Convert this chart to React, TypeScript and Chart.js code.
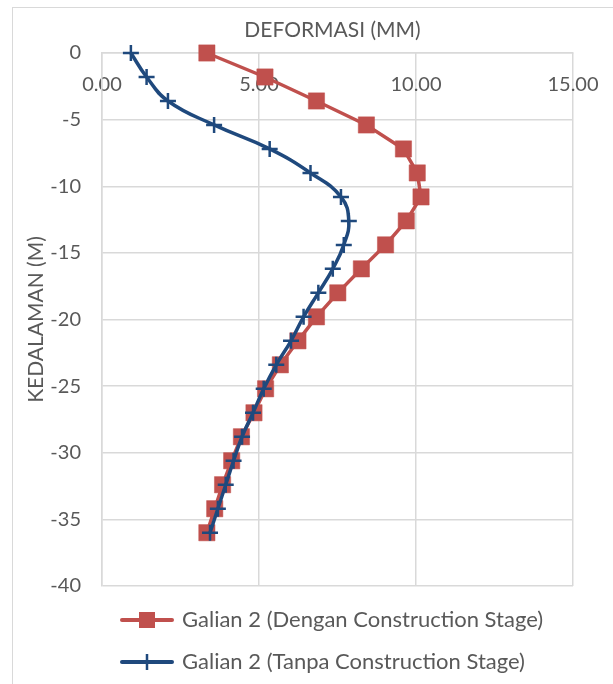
import React, { useEffect, useRef } from 'react';
import { Chart, registerables } from 'chart.js';

Chart.register(...registerables);

// ---- data ----
const depthM: number[] = [0, -1.8, -3.6, -5.4, -7.2, -9, -10.8, -12.6, -14.4, -16.2, -18, -19.8, -21.6, -23.4, -25.2, -27, -28.8, -30.6, -32.4, -34.2, -36];
const denganStage: number[] = [3.34, 5.19, 6.83, 8.42, 9.6, 10.04, 10.16, 9.69, 9.03, 8.26, 7.51, 6.83, 6.24, 5.68, 5.21, 4.84, 4.44, 4.13, 3.84, 3.59, 3.34];
const tanpaStage: number[] = [0.92, 1.42, 2.1, 3.57, 5.34, 6.64, 7.61, 7.86, 7.7, 7.35, 6.89, 6.42, 6.02, 5.55, 5.15, 4.81, 4.46, 4.19, 3.94, 3.69, 3.44];
const seriesNames: string[] = ['Galian 2 (Dengan Construction Stage)', 'Galian 2 (Tanpa Construction Stage)'];
const chartTitle = 'DEFORMASI (MM)';
const yAxisTitle = 'KEDALAMAN (M)';
const xRange: number[] = [0, 15];
const xStep = 5;
const yRange: number[] = [-40, 0];
const yStep = 5;

const TEXT = '#595959';
const GRID = '#d9d9d9';
const RED = '#c0504d';
const BLUE = '#1f497d';
const FONT = 'Lato';

const overlayPlugin = {
  id: 'overlay',
  afterDraw(chart: any) {
    const ctx = chart.ctx as CanvasRenderingContext2D;
    const area = chart.chartArea;
    ctx.save();
    ctx.fillStyle = TEXT;
    ctx.font = `21px ${FONT}`;
    ctx.textAlign = 'center';
    ctx.textBaseline = 'middle';
    ctx.fillText(chartTitle, (area.left + area.right) / 2 - 5, area.top - 23);

    chart.data.datasets.forEach((ds: any, i: number) => {
      const y = area.bottom + 34 + i * 42;
      const x0 = area.left + 20;
      const x1 = x0 + 50;
      const cx = (x0 + x1) / 2;
      ctx.strokeStyle = ds.borderColor;
      ctx.lineWidth = 4;
      ctx.lineCap = 'round';
      ctx.beginPath();
      ctx.moveTo(x0, y);
      ctx.lineTo(x1, y);
      ctx.stroke();
      if (ds.pointStyle === 'rect') {
        ctx.fillStyle = ds.borderColor;
        ctx.fillRect(cx - 8, y - 8, 16, 16);
      } else {
        ctx.lineWidth = 2.5;
        ctx.lineCap = 'butt';
        ctx.beginPath();
        ctx.moveTo(cx, y - 8);
        ctx.lineTo(cx, y + 8);
        ctx.moveTo(cx - 8, y);
        ctx.lineTo(cx + 8, y);
        ctx.stroke();
      }
      ctx.fillStyle = TEXT;
      ctx.font = `22px ${FONT}`;
      ctx.textAlign = 'left';
      ctx.textBaseline = 'middle';
      ctx.fillText(ds.label, x1 + 10, y);
    });
    ctx.restore();
  },
};

export default function App() {
  const canvasRef = useRef<HTMLCanvasElement | null>(null);

  useEffect(() => {
    if (!canvasRef.current) return;
    const chart = new Chart(canvasRef.current, {
      type: 'line',
      data: {
        datasets: [
          {
            label: seriesNames[0],
            data: depthM.map((d, i) => ({ x: denganStage[i], y: d })),
            borderColor: RED,
            backgroundColor: RED,
            borderWidth: 3.5,
            pointStyle: 'rect',
            pointRadius: 11.5,
            pointHoverRadius: 11.5,
            pointBorderWidth: 0.5,
            tension: 0,
            order: 1,
            clip: false,
          } as any,
          {
            label: seriesNames[1],
            data: depthM.map((d, i) => ({ x: tanpaStage[i], y: d })),
            borderColor: BLUE,
            backgroundColor: BLUE,
            borderWidth: 3.5,
            pointStyle: 'cross',
            pointRadius: 8,
            pointHoverRadius: 8,
            pointBorderWidth: 2.5,
            tension: 0.45,
            order: 0,
            clip: false,
          } as any,
        ],
      },
      options: {
        animation: false,
        responsive: false,
        maintainAspectRatio: false,
        events: [],
        layout: { padding: { left: 0, top: 53, right: 40, bottom: 98 } },
        plugins: {
          legend: { display: false },
          title: { display: false },
          tooltip: { enabled: false },
        },
        scales: {
          x: {
            type: 'linear',
            position: { y: 0 } as any,
            min: xRange[0],
            max: xRange[1],
            ticks: {
              stepSize: xStep,
              color: TEXT,
              font: { family: FONT, size: 20 },
              padding: 20,
              callback: (v: any) => Number(v).toFixed(2),
            },
            grid: { color: GRID, lineWidth: 1.5, drawTicks: false },
            border: { color: GRID, width: 1.5 },
            afterFit: (scale: any) => {
              scale.paddingLeft = 0;
              scale.paddingRight = 0;
            },
          },
          y: {
            type: 'linear',
            position: 'left',
            min: yRange[0],
            max: yRange[1],
            ticks: {
              stepSize: yStep,
              color: TEXT,
              font: { family: FONT, size: 20 },
              padding: 21,
            },
            grid: { color: GRID, lineWidth: 1.5, drawTicks: false },
            border: { color: GRID, width: 1.5 },
            title: {
              display: true,
              text: yAxisTitle,
              color: TEXT,
              font: { family: FONT, size: 21 },
              padding: { top: 24, bottom: 0 },
            },
            afterFit: (scale: any) => {
              scale.width = 102;
            },
          },
        },
      },
      plugins: [overlayPlugin],
    });
    return () => chart.destroy();
  }, []);

  return (
    <div style={{ position: 'fixed', left: 0, top: 0, width: 613, height: 684, overflow: 'hidden', background: '#fff' }}>
      <div style={{ position: 'absolute', left: 12, top: 7, width: 700, height: 700, border: `1px solid ${GRID}`, boxSizing: 'border-box' }} />
      <canvas ref={canvasRef} width={613} height={684} style={{ position: 'absolute', left: 0, top: 0, width: 613, height: 684 }} />
    </div>
  );
}
